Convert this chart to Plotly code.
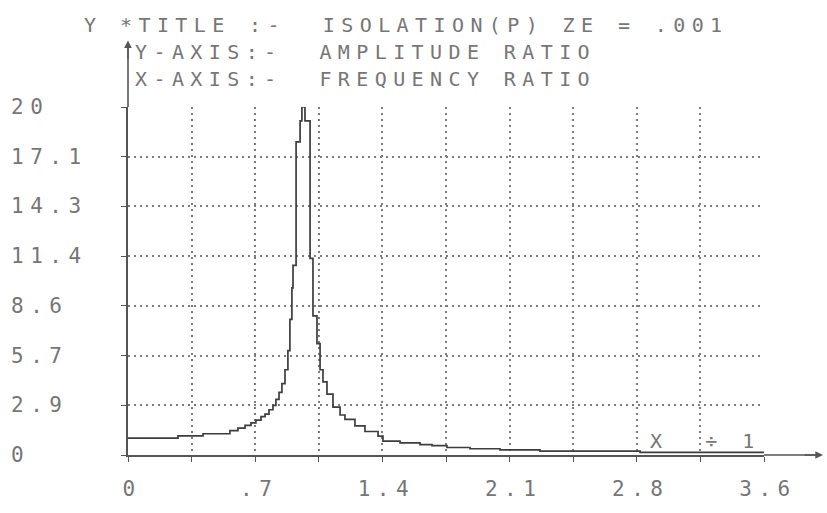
import plotly.graph_objects as go

# ---- data ----
freq_ratio = [0.000, 0.275, 0.413, 0.561, 0.605, 0.644, 0.677, 0.704, 0.732, 0.754,
              0.776, 0.798, 0.814, 0.831, 0.847, 0.864, 0.880, 0.891, 0.902, 0.908,
              0.925, 0.947, 0.957, 0.974, 1.002, 1.018, 1.040, 1.057, 1.073, 1.095,
              1.128, 1.167, 1.194, 1.249, 1.304, 1.376, 1.403, 1.497, 1.607, 1.673,
              1.755, 1.882, 2.047, 2.267, 2.818, 3.500]
amplitude = [0.97, 1.10, 1.22, 1.40, 1.55, 1.70, 1.85, 2.00, 2.20, 2.35,
             2.60, 2.85, 3.20, 3.60, 4.10, 4.90, 6.00, 7.80, 9.60, 10.9,
             18.0, 19.2, 20.0, 19.2, 11.3, 8.0, 6.4, 4.9, 4.2, 3.5,
             2.75, 2.30, 2.05, 1.67, 1.35, 1.08, 0.80, 0.70, 0.60, 0.54,
             0.43, 0.36, 0.30, 0.22, 0.15, 0.12]

x_tick_vals = [0, 0.7, 1.4, 2.1, 2.8, 3.5]
x_tick_text = ["0", ".7", "1.4", "2.1", "2.8", "3.6"]
y_tick_vals = [0, 2.857, 5.714, 8.571, 11.429, 14.286, 17.143, 20]
y_tick_text = ["0", "2.9", "5.7", "8.6", "11.4", "14.3", "17.1", "20"]

title_lines = ["*TITLE :-  ISOLATION(P) ZE = .001",
               "Y-AXIS:-  AMPLITUDE RATIO",
               "X-AXIS:-  FREQUENCY RATIO"]
y_letter = "Y"
x_scale_note = "X  ÷ 1"

# ---- geometry (pixels of the 827x513 page) ----
W, H = 827, 513
L, R, T, B = 128, 63, 107, 35
PW, PH = W - L - R, H - T - B

def px(x):
    return (x - L) / PW

def py(y):
    return (H - B - y) / PH

FONT = "DejaVu Sans Mono"
TXT = "#767676"
GRID = "#7c7c7c"
AX = "#555555"

fig = go.Figure()
fig.add_trace(go.Scatter(
    x=freq_ratio, y=amplitude, mode="lines", line_shape="hv",
    line=dict(color="#3d3d3d", width=1.7), cliponaxis=False, showlegend=False,
    hoverinfo="skip"))

ann = []
ann.append(dict(text=y_letter, x=px(82), y=py(20)))
ann.append(dict(text=title_lines[0], x=px(118), y=py(20)))
ann.append(dict(text=title_lines[1], x=px(133), y=py(48)))
ann.append(dict(text=title_lines[2], x=px(133), y=py(77)))
ann.append(dict(text=x_scale_note, x=px(648), y=py(463)))
annotations = []
for a in ann:
    a.update(xref="paper", yref="paper", xanchor="left", align="left",
             yanchor="middle", showarrow=False,
             font=dict(family=FONT, size=20, color=TXT))
    annotations.append(a)
n_text = len(annotations)
for v, t in zip(y_tick_vals, y_tick_text):
    annotations.append(dict(text=t, x=px(9), y=v, xref="paper", yref="y",
                            xanchor="left", align="left", yanchor="middle",
                            showarrow=False,
                            font=dict(family=FONT, size=21, color=TXT)))
n_all = len(annotations)
# axis arrow heads
annotations.append(dict(text="", x=px(823), y=0, xref="paper", yref="paper",
                        ax=-20, ay=0, showarrow=True, arrowhead=2, arrowsize=1.1,
                        arrowwidth=1.4, arrowcolor=AX))
annotations.append(dict(text="", x=0, y=py(36), xref="paper", yref="paper",
                        ax=0, ay=20, showarrow=True, arrowhead=2, arrowsize=1.1,
                        arrowwidth=1.4, arrowcolor=AX))

shapes = [
    dict(type="line", xref="paper", yref="paper", x0=1, x1=px(820), y0=0, y1=0,
         line=dict(color=AX, width=1.6)),
    dict(type="line", xref="paper", yref="paper", x0=0, x1=0, y0=1, y1=py(40),
         line=dict(color=AX, width=1.6)),
]

fig.update_layout(
    width=W, height=H, margin=dict(l=L, r=R, t=T, b=B),
    paper_bgcolor="white", plot_bgcolor="white",
    annotations=annotations, shapes=shapes, showlegend=False,
    xaxis=dict(range=[0, 3.5], tickvals=x_tick_vals, ticktext=x_tick_text,
               showline=True, linecolor=AX, linewidth=2, mirror=False,
               ticks="outside", ticklen=5, tickcolor=AX, tickwidth=1.2,
               showgrid=True, gridcolor=GRID, gridwidth=1.5, griddash="2px,4px",
               zeroline=False, ticklabelstandoff=9, ticklabelshift=4,
               tickfont=dict(family=FONT, size=21, color=TXT),
               minor=dict(dtick=0.35, tick0=0, showgrid=True, gridcolor=GRID,
                          gridwidth=1.5, griddash="2px,4px", ticks="outside",
                          ticklen=5, tickcolor=AX)),
    yaxis=dict(range=[0, 20], tickvals=y_tick_vals, showticklabels=False,
               showline=True, linecolor=AX, linewidth=1.6,
               ticks="outside", ticklen=5, tickcolor=AX, tickwidth=1.2,
               showgrid=True, gridcolor=GRID, gridwidth=1.5, griddash="2px,4px",
               zeroline=False),
)

css = ".annotation text{letter-spacing:6.4px}"
css += "".join('.annotation[data-index="%d"] text{letter-spacing:6.5px}' % i
               for i in range(n_text, n_all))
css += ".xtick text{letter-spacing:6.5px}"
js = ("var s=document.createElement('style');s.textContent=%r;"
      "document.head.appendChild(s);" % css)

fig.write_html("out.html", post_script=js)
